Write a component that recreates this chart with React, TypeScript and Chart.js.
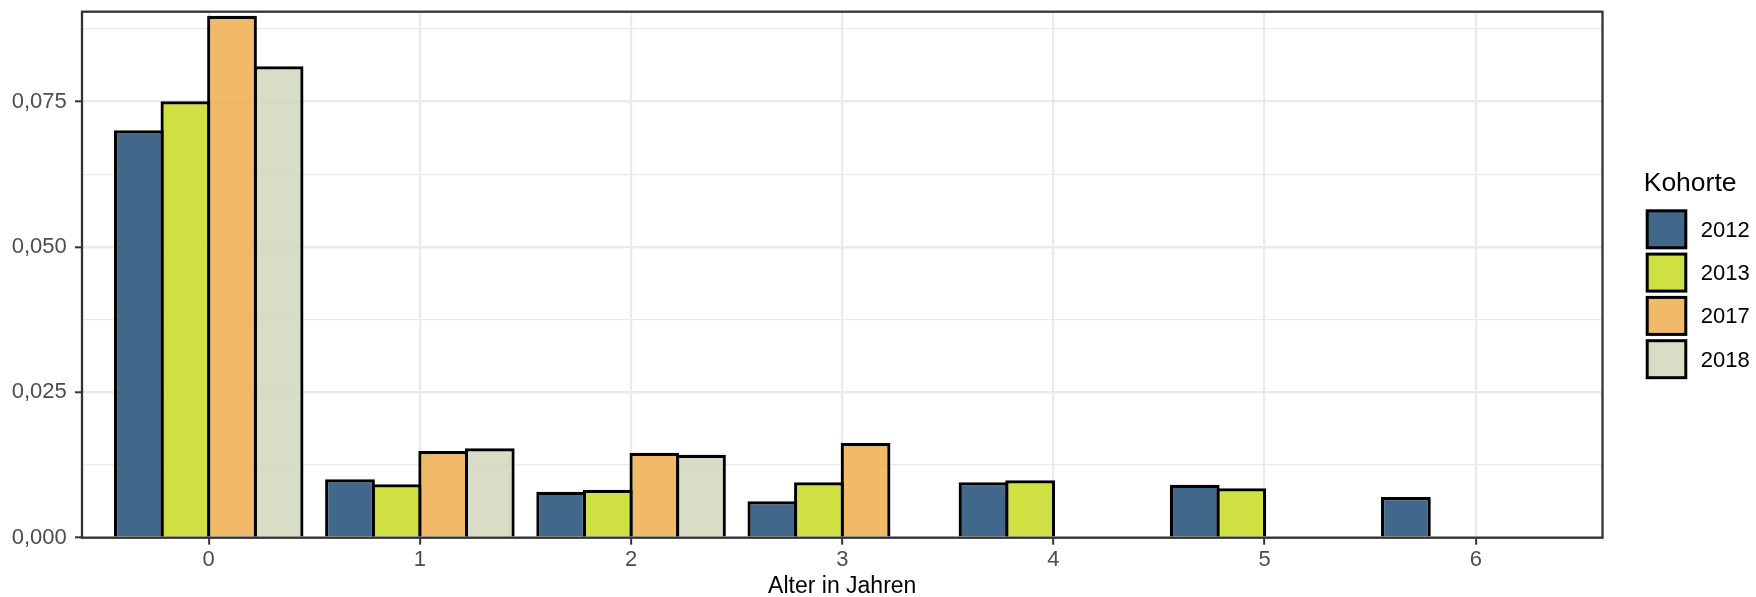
import React, { useEffect, useRef } from 'react';
import { Chart, registerables } from 'chart.js';

Chart.register(...registerables);

// ---- data ----
const ages = [0, 1, 2, 3, 4, 5, 6];
const cohorts = ['2012', '2013', '2017', '2018'];
const values2012 = [0.0701, 0.01005, 0.0079, 0.00626, 0.00953, 0.00912, 0.0070];
const values2013 = [0.0751, 0.00919, 0.00826, 0.00953, 0.00987, 0.0085, null];
const values2017 = [0.0898, 0.01491, 0.01462, 0.01629, null, null, null];
const values2018 = [0.0811, 0.01538, 0.01428, null, null, null, null];
const yTickValues = [0, 0.0125, 0.025, 0.0375, 0.05, 0.0625, 0.075, 0.0875];
const xTitle = 'Alter in Jahren';
const legendTitle = 'Kohorte';

// ---- styles ----
const W = 1756;
const H = 597;
const FONT = '"Liberation Sans", Arial, Helvetica, sans-serif';
const fillColors = [
  'rgba(44,88,126,0.9)',
  'rgba(202,221,46,0.9)',
  'rgba(238,179,89,0.9)',
  'rgba(212,217,192,0.9)',
];

const seriesValues = [values2012, values2013, values2017, values2018];

const fmt = (v: number) => v.toFixed(3).replace('.', ',');

const panelBorder = {
  id: 'panelBorder',
  afterDraw(chart: any) {
    const { ctx, chartArea } = chart;
    ctx.save();
    ctx.strokeStyle = '#333333';
    ctx.lineWidth = 2.3;
    ctx.strokeRect(chartArea.left, chartArea.top, chartArea.right - chartArea.left, chartArea.bottom - chartArea.top);
    ctx.restore();
  },
};

const kohorteLegend = {
  id: 'kohorteLegend',
  afterDraw(chart: any) {
    const { ctx, chartArea } = chart;
    const x0 = chartArea.right + 43.2;
    ctx.save();
    ctx.fillStyle = '#000000';
    ctx.textAlign = 'left';
    ctx.textBaseline = 'alphabetic';
    ctx.font = `26.5px ${FONT}`;
    ctx.fillText(legendTitle, x0 - 2, 190.7);
    chart.data.datasets.forEach((ds: any, i: number) => {
      const y = 210.8 + i * 43.3;
      ctx.fillStyle = '#ffffff';
      ctx.fillRect(x0 + 1.5, y, 38.6, 37);
      ctx.fillStyle = ds.backgroundColor;
      ctx.fillRect(x0 + 1.5, y, 38.6, 37);
      ctx.lineWidth = 3;
      ctx.strokeStyle = '#000000';
      ctx.strokeRect(x0 + 1.5, y, 38.6, 37);
      ctx.fillStyle = '#000000';
      ctx.font = `22px ${FONT}`;
      ctx.textBaseline = 'middle';
      ctx.fillText(ds.label, x0 + 55, y + 18.5 + 1.5);
    });
    ctx.restore();
  },
};

export default function App() {
  const ref = useRef<HTMLCanvasElement>(null);

  useEffect(() => {
    document.body.style.margin = '0';
    const canvas = ref.current;
    if (!canvas) return;
    const chart = new Chart(canvas, {
      type: 'bar',
      data: {
        datasets: cohorts.map((c, k) => ({
          label: c,
          data: ages.map((a, i) => ({ x: a, y: seriesValues[k][i] })),
          backgroundColor: fillColors[k],
          borderColor: '#000000',
          borderWidth: 3.2,
          borderSkipped: 'start',
          categoryPercentage: 0.8826,
          barPercentage: 1.068,
        })),
      },
      options: {
        responsive: false,
        animation: false,
        devicePixelRatio: 1,
        events: [],
        layout: { padding: { left: 0, top: 11.7, right: 153.5, bottom: 0 } },
        plugins: {
          legend: { display: false },
          tooltip: { enabled: false },
        },
        scales: {
          x: {
            type: 'linear',
            min: -0.6,
            max: 6.6,
            bounds: 'data',
            offset: false,
            afterBuildTicks: (scale: any) => {
              scale.ticks = ages.map((v) => ({ value: v }));
            },
            afterFit: (scale: any) => {
              scale.height = 59.3;
              scale.paddingLeft = 0;
              scale.paddingRight = 0;
              scale.paddingTop = 0;
              scale.paddingBottom = 0;
            },
            border: { display: false },
            grid: {
              offset: false,
              color: '#ebebeb',
              lineWidth: 2.3,
              tickColor: '#333333',
              tickWidth: 2,
              tickLength: 7,
            },
            ticks: {
              autoSkip: false,
              maxRotation: 0,
              padding: 1.6,
              color: '#4d4d4d',
              font: { family: FONT, size: 22 },
              callback: (v: any) => String(v),
            },
            title: {
              display: true,
              text: xTitle,
              color: '#000000',
              font: { family: FONT, size: 23, lineHeight: 1 },
              padding: { top: 0, bottom: -1.5 },
            },
          },
          y: {
            type: 'linear',
            min: 0,
            max: 0.0905,
            bounds: 'data',
            afterBuildTicks: (scale: any) => {
              scale.ticks = yTickValues.map((v) => ({ value: v }));
            },
            afterFit: (scale: any) => {
              scale.width = 82;
              scale.paddingLeft = 0;
              scale.paddingRight = 0;
              scale.paddingTop = 0;
              scale.paddingBottom = 0;
            },
            border: { display: false },
            grid: {
              color: '#ebebeb',
              lineWidth: (c: any) => (c.index % 2 === 0 ? 2.6 : 1.3),
              tickColor: (c: any) => (c.index % 2 === 0 ? '#333333' : 'rgba(0,0,0,0)'),
              tickWidth: 2,
              tickLength: 7,
            },
            ticks: {
              autoSkip: false,
              padding: 8.3,
              color: '#4d4d4d',
              font: { family: FONT, size: 22 },
              callback: (v: any, i: number) => (i % 2 === 0 ? fmt(Number(v)) : ''),
            },
          },
        },
      },
      plugins: [panelBorder, kohorteLegend],
    } as any);
    return () => chart.destroy();
  }, []);

  return (
    <canvas
      ref={ref}
      width={W}
      height={H}
      style={{ display: 'block', width: W, height: H }}
    />
  );
}
